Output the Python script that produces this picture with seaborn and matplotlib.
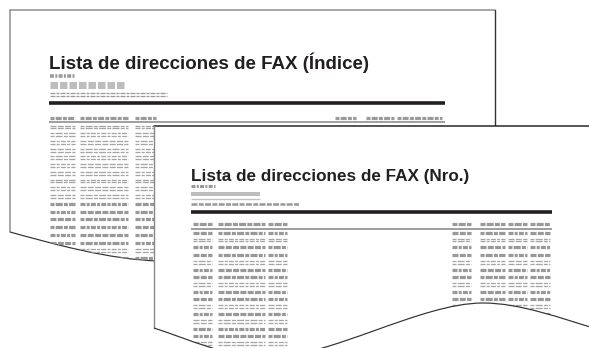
import matplotlib
matplotlib.use("Agg")
import matplotlib.pyplot as plt
from matplotlib.path import Path
from matplotlib.patches import PathPatch
import seaborn as sns

# ---- content of the two sheets ----
back_title = "Lista de direcciones de FAX (Índice)"
front_title = "Lista de direcciones de FAX (Nro.)"

# column spans (x start, x end) of the dashed "text" columns
back_cols = [(50, 75), (80, 128), (135, 156), (335, 356), (366, 394), (397, 442)]
front_cols = [(193, 212), (218, 265), (268, 287),
              (452, 471), (480, 505), (508, 527), (530, 550)]

# row styles: t = one thick dashed bar, d = two thin dashed lines
back_rows = list("ddddddddddttttttdt")
front_rows = list("tdttdttdttdtdttdt")

PT = 72 / 100  # one pixel in points

sns.set_theme(style="white")
plt.rcParams["font.family"] = ["Liberation Sans", "DejaVu Sans"]
plt.rcParams["lines.scale_dashes"] = False

fig = plt.figure(figsize=(5.89, 3.48), dpi=100)
ax = fig.add_axes([0, 0, 1, 1])
ax.set_xlim(0, 589)
ax.set_ylim(348, 0)
ax.axis("off")


def hbar(x0, x1, y, px, color, dash=None, clip=None, z=3):
    kw = dict(lw=px * PT, color=color, solid_capstyle="butt",
              dash_capstyle="butt", zorder=z)
    if dash is not None:
        kw["dashes"] = [d * PT for d in dash]
    ln, = ax.plot([x0, x1], [y, y], **kw)
    if clip is not None:
        ln.set_clip_path(clip)
    return ln


def text_row(cols, y, kind, clip, z, i):
    pats = [(6, 1.3), (4, 1.2, 7, 1.2), (5, 1.2, 3, 1.2)]
    for j, (x0, x1) in enumerate(cols):
        dash = pats[(i + j) % len(pats)]
        if kind == "t":
            hbar(x0, x1, y, 3.2, "#999999", dash, clip, z)
        else:
            hbar(x0, x1, y - 1.4, 1.3, "#a5a5a5", dash, clip, z)
            hbar(x0, x1, y + 1.4, 1.3, "#a5a5a5", dash, clip, z)


# ---------------- back sheet ----------------
back_verts = [(10, 10), (495, 10), (495, 300), (160, 300), (160, 261),
              (110, 260), (50, 243), (10, 232), (10, 10)]
back_codes = [Path.MOVETO, Path.LINETO, Path.LINETO, Path.LINETO, Path.LINETO,
              Path.CURVE4, Path.CURVE4, Path.CURVE4, Path.CLOSEPOLY]
back_patch = PathPatch(Path(back_verts, back_codes), facecolor="white",
                       edgecolor="none", zorder=1)
ax.add_patch(back_patch)

ax.plot([10, 495], [10, 10], color="#8c8c8c", lw=1.5 * PT, zorder=2)
ax.plot([10, 10], [10, 232], color="#8c8c8c", lw=1.5 * PT, zorder=2)
ax.plot([495, 495], [10, 130], color="#333333", lw=1.4 * PT, zorder=2)
back_wave = Path([(10, 232), (50, 243), (110, 260), (160, 261)],
                 [Path.MOVETO, Path.CURVE4, Path.CURVE4, Path.CURVE4])
ax.add_patch(PathPatch(back_wave, facecolor="none", edgecolor="#333333",
                       lw=1.2 * PT, zorder=2))

ax.text(49, 69, back_title, fontsize=13.5, fontweight="bold",
        color="#231f20", va="baseline", zorder=3)
hbar(50, 75, 75.5, 3.5, "#999999", (4, 1.3, 2, 1.3))
hbar(50, 125, 85, 7, "#bdbdbe", (7.5, 2))
hbar(50, 167, 93.3, 1.3, "#9a9a9a", (5, 1, 3, 1))
hbar(50, 167, 96, 1.3, "#9a9a9a", (5, 1, 3, 1))
hbar(49, 445, 102.7, 3.6, "#231f20")
for j, (x0, x1) in enumerate(back_cols):
    hbar(x0, x1, 117.5, 3.2, "#9a9a9a", (4, 1.2, 6, 1.2))
hbar(49, 445, 122, 1.6, "#8a8a8a", z=4)
for i, kind in enumerate(back_rows):
    text_row(back_cols, 127 + i * 7.7, kind, back_patch, 3, i)

# ---------------- front sheet ----------------
front_verts = [(154, 126), (600, 126), (600, 330),
               (560, 318), (520, 303), (483, 303),
               (420, 303), (330, 358), (265, 358),
               (230, 358), (185, 338), (154, 328), (154, 126)]
front_codes = [Path.MOVETO, Path.LINETO, Path.LINETO,
               Path.CURVE4, Path.CURVE4, Path.CURVE4,
               Path.CURVE4, Path.CURVE4, Path.CURVE4,
               Path.CURVE4, Path.CURVE4, Path.CURVE4, Path.CLOSEPOLY]
front_patch = PathPatch(Path(front_verts, front_codes), facecolor="white",
                        edgecolor="none", zorder=5)
ax.add_patch(front_patch)

ax.plot([154, 589], [126, 126], color="#222222", lw=1.5 * PT, zorder=8)
ax.plot([154, 154], [126, 328], color="#888888", lw=1.4 * PT, zorder=8)
front_wave = Path([(154, 328), (185, 338), (230, 358), (265, 358),
                   (330, 358), (420, 303), (483, 303),
                   (520, 303), (560, 318), (600, 330)],
                  [Path.MOVETO] + [Path.CURVE4] * 9)
ax.add_patch(PathPatch(front_wave, facecolor="none", edgecolor="#333333",
                       lw=1.2 * PT, zorder=8))

ax.text(191, 181, front_title, fontsize=12.3, fontweight="bold",
        color="#231f20", va="baseline", zorder=7)
hbar(191, 215, 186, 3, "#999999", (4, 1.3, 2, 1.3), z=7)
hbar(191, 260, 194, 4, "#bebebe", z=7)
hbar(191, 260, 199, 1.4, "#c4c4c4", z=7)
hbar(191, 299, 203.5, 2.6, "#9a9a9a", (6, 1.3, 5, 1.3), z=7)
hbar(191, 552, 211.5, 3.6, "#231f20", z=7)
for j, (x0, x1) in enumerate(front_cols):
    hbar(x0, x1, 224, 3.2, "#999999", (5, 1.2, 7, 1.2), z=7)
hbar(191, 552, 229, 1.6, "#888888", z=7)
for i, kind in enumerate(front_rows):
    text_row(front_cols, 232.5 + i * 7.4, kind, front_patch, 6, i)

fig.savefig("out.png", dpi=100, facecolor="white")
